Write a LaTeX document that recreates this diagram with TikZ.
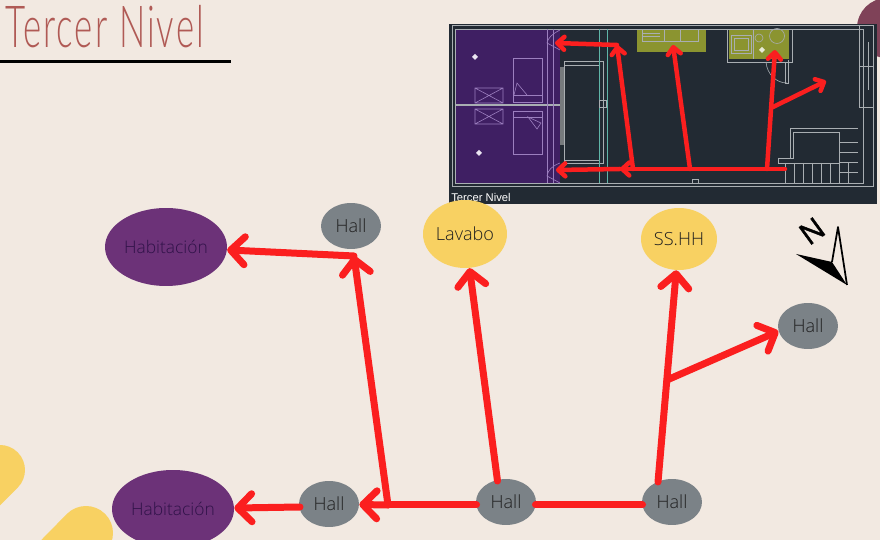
\documentclass[tikz,border=0pt]{standalone}
\usepackage{fontspec}
\setmainfont{Open Sans Light}
\newfontfamily\northfont[FakeBold=1.5]{Open Sans}
\newfontfamily\titlefont[LetterSpace=6]{Lato Light}
\newfontfamily\cadfont{Liberation Sans}
\usetikzlibrary{arrows.meta,positioning,calc,shapes.geometric}
\definecolor{paper}{HTML}{F2E9E1}
\definecolor{room}{HTML}{6C3278}
\definecolor{roomtext}{HTML}{2F1248}
\definecolor{hallgrey}{HTML}{7B8287}
\definecolor{wet}{HTML}{F8D162}
\definecolor{route}{HTML}{FB1F1F}
\definecolor{titlered}{HTML}{B05A55}
\definecolor{blob}{HTML}{7F4258}
\definecolor{cad}{HTML}{222A33}
\definecolor{cadroom}{HTML}{3F1F63}
\definecolor{cadwet}{HTML}{8B9430}
\definecolor{cadline}{HTML}{A9AEB2}
\definecolor{cadteal}{HTML}{5FB5A8}
\definecolor{cadlilac}{HTML}{9C7FBF}

\begin{document}
\begin{tikzpicture}[x=0.02cm,y=-0.02cm,
  placeroom/.style={ellipse, fill=room, inner sep=-0.2cm, minimum width=2.44cm,
              minimum height=1.56cm, text=roomtext, font=\fontsize{9.9}{12}\selectfont},
  placewet/.style={ellipse, fill=wet, inner sep=-0.2cm, text=black!88,
              font=\fontsize{10.3}{12}\selectfont},
  placehall/.style={ellipse, fill=hallgrey, inner sep=-0.2cm, minimum width=1.2cm,
              minimum height=0.92cm, text=black!88, font=\fontsize{10.3}{12}\selectfont},
  routeline/.style={route, line width=0.14cm, line cap=round, line join=round},
  routearrow/.style={routeline, -{Straight Barb[round, length=0.28cm, width=0.56cm]}},
  planline/.style={routeline, line width=0.09cm},
  planarrow/.style={planline, -{Straight Barb[round, length=0.14cm, width=0.26cm]}},
  wall/.style={cadline, line width=0.012cm},
  roomwall/.style={cadlilac, line width=0.012cm}]
  \useasboundingbox (0,0) rectangle (880,540);
  \clip (0,0) rectangle (880,540);
  \fill[paper] (0,0) rectangle (880,540);
  % corner shapes
  \fill[blob] (887,28) circle [radius=0.6cm];
  \draw[wet, line width=1cm, line cap=round] (0,470) -- (-40,510);
  \draw[wet, line width=1.08cm, line cap=round] (86,533) -- (30,590);
  % title
  \node[anchor=base west, text=titlered, font=\titlefont\fontsize{33}{33}\selectfont,
    xscale=0.6, inner sep=0pt] (title) at (5,48) {Tercer Nivel};
  \draw[black, line width=0.05cm] (0,61.5) -- (231,61.5);
  % floor plan
  \fill[cad] (449,24) rectangle (877,204);
  \fill[cadroom] (455,29) rectangle (560,183);
  \fill[cadwet] (637,29) rectangle (706,52);
  \fill[cadwet] (729,29) rectangle (789,59);
  \draw[wall] (452,25) rectangle (873,186);
  \draw[wall] (455,29) rectangle (863,183);
  \draw[wall, line width=0.03cm] (455,105) -- (563,105);
  \draw[roomwall] (513,58) rectangle (542,102) (513,95) -- (542,95);
  \draw[roomwall] (514,95) -- (517,83) -- (527,95);
  \draw[roomwall] (513,111) rectangle (542,154) (513,117) -- (542,117);
  \draw[roomwall] (528,117) -- (541,123) -- (537,129) -- cycle;
  \draw[roomwall] (475,88) rectangle (503,103) (475,88) -- (503,103) (475,103) -- (503,88);
  \draw[roomwall] (475,109) rectangle (503,124) (475,109) -- (503,124) (475,124) -- (503,109);
  \draw[roomwall] (547,29) -- (547,183) (553,29) -- (553,183);
  \draw[roomwall] (560,30) .. controls (552,34) and (548,38) .. (547,43) -- (560,50);
  \draw[roomwall] (560,163) .. controls (552,166) and (548,170) .. (547,176) -- (560,183);
  \foreach \markx/\marky in {475/57,479/153}
    \fill[white!80!cadlilac] (\markx-3,\marky) -- (\markx,\marky-3) -- (\markx+3,\marky) -- (\markx,\marky+3) -- cycle;
  \fill[white!80!cadwet] (762,47) -- (765,50) -- (762,53) -- (759,50) -- cycle;
  \draw[wall] (564,61) rectangle (603,163) (564,65) -- (599,65) (564,160) -- (599,160);
  \fill[cadline!70!black] (560,67) rectangle (564,145);
  \draw[cadteal, line width=0.012cm] (599,29) -- (599,183) (607,29) -- (607,183);
  \draw[wall] (599,100) rectangle (606,107);
  \draw[wall] (692,179) rectangle (698,183);
  \draw[wall] (642,29) rectangle (698,41) (664,29) -- (664,41) (680,29) -- (680,41);
  \draw[wall] (642,33) -- (660,33) (642,36) -- (660,36);
  \draw[wall] (727,29) -- (727,62) -- (792,62) -- (792,29);
  \draw[wall] (731,35) rectangle (751,53);
  \draw[wall] (734,38) rectangle (748,50);
  \draw[wall] (753,29) -- (753,59);
  \draw[wall] (777,36) circle [radius=0.15cm];
  \draw[wall] (759,38) circle [radius=0.08cm];
  \draw[wall] (788,60) -- (788,83) -- (785,83) -- (785,62);
  \draw[wall] (766,62) .. controls (767,74) and (776,83) .. (787,83);
  \draw[wall] (859,25) -- (859,107) -- (873,107);
  \draw[wall] (859,66) -- (873,66) (868,42) -- (868,90);
  \draw[wall] (790,158) -- (790,128) -- (858,128);
  \draw[wall] (778,158) -- (793,158) -- (793,132) -- (839,132) -- (839,163) -- (785,163) -- (785,183);
  \draw[wall] (778,158) -- (778,163) -- (785,163);
  \foreach \stepy in {142,152,162,172} \draw[wall] (839,\stepy) -- (858,\stepy);
  \foreach \stepx in {794,803,812,821,830,839,848} \draw[wall] (\stepx,163) -- (\stepx,183);
  \node[anchor=west, text=white, font=\cadfont\fontsize{6.4}{7}\selectfont, inner sep=0pt] (plantitle) at (451,197) {Tercer Nivel};
  \coordinate (p1) at (785,169);
  \coordinate (p2) at (767,169);
  \coordinate (p3) at (690,169);
  \coordinate (p4) at (633,169);
  \coordinate (p5) at (620,169);
  \coordinate (p6) at (556,170);
  \coordinate (p7) at (617,45);
  \coordinate (p8) at (555,43);
  \coordinate (p9) at (673,45);
  \coordinate (p10) at (775,50);
  \coordinate (p11) at (773,107);
  \coordinate (p12) at (826,81);
  \draw[planarrow] (p1) -- (p5);
  \draw[planarrow] (p5) -- (p6);
  \draw[planarrow] (p4) -- (p7);
  \draw[planarrow] (p7) -- (p8);
  \draw[planarrow] (p3) -- (p9);
  \draw[planarrow] (p2) -- (p10);
  \draw[planarrow] (p11) -- (p12);
  % compass
  \node[rotate=36, font=\northfont\fontsize{17}{17}\selectfont, inner sep=0pt] (north) at (812,231) {N};
  \fill[black] (796,254) -- (832,262) -- (847,285) -- cycle;
  \draw[black, line width=0.035cm, line join=round] (832,262) -- (838,227) -- (847,285);
  % graph
  \node[placeroom] (hab1) at (166,247) {Habitación};
  \node[placeroom] (hab2) at (173,509) {Habitación};
  \node[placehall] (hall1) at (351,226) {Hall};
  \node[placehall] (hall2) at (808,326) {Hall};
  \node[placehall] (hall3) at (329,504) {Hall};
  \node[placehall] (hall4) at (506,502) {Hall};
  \node[placehall] (hall5) at (672,502) {Hall};
  \node[placewet, minimum width=1.68cm, minimum height=1.36cm] (lavabo) at (465,234) {Lavabo};
  \node[placewet, minimum width=1.52cm, minimum height=1.24cm] (sshh) at (679,239) {SS.HH};
  \coordinate (j1) at (388,505);
  \coordinate (j2) at (354,256);
  \coordinate (j3) at (667,380);
  \coordinate (s1) at (642.5,505);
  \coordinate (s2) at (535.5,505);
  \coordinate (s3) at (476.5,505);
  \coordinate (s4) at (497.5,481);
  \coordinate (s5) at (658,482);
  \coordinate (s6) at (300,507);
  \draw[routeline] (s1) -- (s2);
  \draw[routeline] (s3) -- (j1);
  \draw[routearrow] (j1) -- (hall3);
  \draw[routearrow] (s6) -- (hab2);
  \draw[routearrow] (j1) -- (j2);
  \draw[routearrow] (j2) -- (hab1);
  \draw[routearrow] (s4) -- (lavabo);
  \draw[routearrow] (s5) -- (sshh);
  \draw[routearrow] (j3) -- (hall2.190);
\end{tikzpicture}
\end{document}
